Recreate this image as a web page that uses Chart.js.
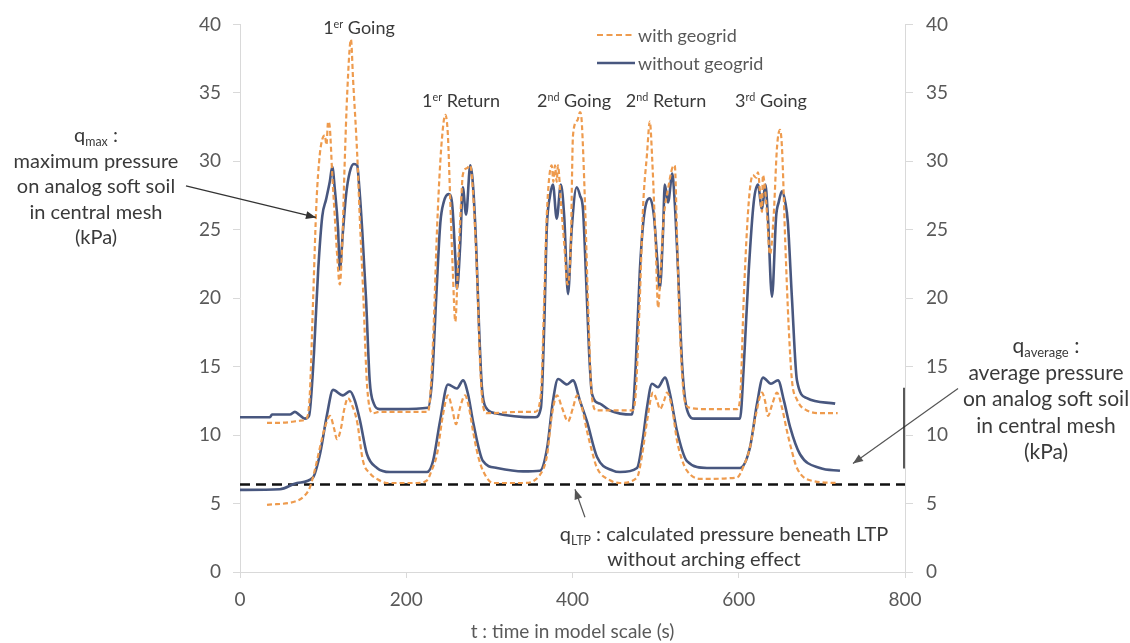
<!DOCTYPE html>
<html><head><meta charset="utf-8">
<script src="https://cdn.jsdelivr.net/npm/chart.js@4.4.0/dist/chart.umd.min.js"></script>
<style>
html,body{margin:0;padding:0;background:#fff;}
#wrap{position:relative;width:1130px;height:643px;overflow:hidden;font-family:Lato,"Open Sans",sans-serif;color:#3a3a3a;}
canvas{position:absolute;left:0;top:0;}
.t{position:absolute;white-space:nowrap;font-size:18px;line-height:1;transform:translate(-50%,-50%);}
.l{position:absolute;white-space:nowrap;font-size:18px;line-height:1;transform:translateY(-50%);color:#595959;}
.blk{position:absolute;white-space:nowrap;font-size:20px;text-align:center;transform:translateX(-50%);}
sup{font-size:0.6em;vertical-align:0.6em;line-height:0;}
sub{font-size:0.62em;vertical-align:-0.3em;line-height:0;}
</style></head>
<body><div id="wrap"><canvas id="c" width="1130" height="643"></canvas>
<div class="t" style="left:359px;top:27px">1<sup>er</sup> Going</div>
<div class="t" style="left:461px;top:100px">1<sup>er</sup> Return</div>
<div class="t" style="left:574px;top:100px">2<sup>nd</sup> Going</div>
<div class="t" style="left:666px;top:100px">2<sup>nd</sup> Return</div>
<div class="t" style="left:771px;top:100px">3<sup>rd</sup> Going</div>
<div class="l" style="left:638px;top:35px">with geogrid</div>
<div class="l" style="left:638px;top:63px">without geogrid</div>
<div class="blk" style="left:96px;top:122px;line-height:25.5px">q<sub>max</sub> :<br>maximum pressure<br>on analog soft soil<br>in central mesh<br>(kPa)</div>
<div class="blk" style="left:1046px;top:332px;line-height:26.5px;font-size:21px">q<sub>average</sub> :<br>average pressure<br>on analog soft soil<br>in central mesh<br>(kPa)</div>
<div class="t" style="left:724px;top:533px;font-size:20px">q<sub>LTP</sub> : calculated pressure beneath LTP</div>
<div class="t" style="left:704px;top:558px;font-size:20px">without arching effect</div>
</div>
<script>
// ---- data (t in s, q in kPa) ----
const xTicks = [0, 200, 400, 600, 800];
const yTicks = [0, 5, 10, 15, 20, 25, 30, 35, 40];

const qmaxWithout = [[0,11.3],[36,11.3],[38.5,11.5],[60,11.5],[66,11.7],[71,11.5],[78,11.2],[83,11.4],[89,16],[94,22],[99,26],[103.5,27.2],[108,28.5],[111,29.6],[114,28],[118,25],[120,22.1],[124,25],[127.5,27.5],[132,29.2],[137,29.8],[141,29.7],[143,28.5],[147,25],[151.6,20],[156,14],[161,12.3],[168,11.9],[192.5,11.9],[226,12.0],[231,14],[236,20],[241,25.5],[245,27],[251,27.6],[255,27],[259,23],[261,20.7],[265,24],[268,28.1],[272,26.1],[277,29.7],[280,28.5],[284,24],[287.5,18],[291,13.5],[296,12],[307,11.6],[355,11.3],[362,12],[366,18],[369,25],[373,27.5],[376.5,28.3],[381,25.8],[386,28.3],[390,26],[394.6,20.3],[399,25],[405,28.1],[409,27.5],[412.6,26.5],[416,22],[420,16],[423.5,13],[433,12.3],[445,11.8],[471.6,11.5],[476,15],[481,22],[486,26],[493,27.3],[498,26],[501.7,23],[505,20.7],[509,25],[511,28.3],[515,27],[520,29.1],[523,27],[527,22],[532,15],[538,11.8],[547,11.2],[601.5,11.2],[606,15],[612,22],[618,27],[623,28.3],[628,26.5],[632,28.3],[635,26],[640,20.1],[645,26],[648,27],[652,27.8],[656,27],[659,25.6],[664,20],[670,14],[682,12.7],[716,12.3]];

const qmaxWith = [[32.5,10.9],[48,10.9],[60,10.95],[72,11.05],[80,11.2],[84,13],[88,20],[92,27],[96,30.5],[99,31.6],[102,31.9],[104,31.2],[106,32.9],[108,32.5],[111,29],[114,26],[117,23],[120,21.0],[123,24],[126,30],[129,35],[133.5,38.9],[136,36],[141,30.5],[144,26],[148,20.7],[153,13.5],[160,11.6],[168,11.7],[192,11.7],[226,11.7],[229,13],[233,18],[237,25],[241,30],[245,32.9],[247,33.4],[250,32],[253,27],[256,22],[259,18.3],[262,22],[266,27],[268,29],[273,29.5],[277,29.7],[280,28],[285,22],[289,15],[292,12.3],[297,11.6],[340,11.7],[355,11.7],[362,13],[366,20],[369,26],[375,29.7],[377,28.5],[379,29.7],[381,28.5],[382.5,29.7],[386,27],[390,24],[394,21],[398,24],[400.6,31.9],[406,33],[409,33.6],[411,33],[415,27],[418.6,19.8],[423,13],[429,11.8],[450,11.8],[472,11.8],[476,13],[481,20],[485,26.8],[489.6,30.5],[493,32.9],[496,30],[500,24],[503,19.3],[506,22],[510,26],[515,28],[520,29.5],[523,29.7],[526,24],[529,18],[535,12.5],[541,12.0],[560,11.9],[598,11.9],[602,13],[606,20],[612,27],[617,29],[621,28.8],[623,29.2],[628,26.3],[629,29],[633,27],[637.6,23.2],[642,26],[646,31],[649.6,32.3],[652,31],[656,24],[660,18],[664,14],[670,12.6],[682,11.8],[700,11.6],[719,11.6]];

const qavgWithout = [[0,6.0],[48,6.05],[68.6,6.5],[87.8,6.9],[96.2,8.6],[104.7,11.5],[111.9,13.3],[123.9,12.9],[132.3,13.2],[138.3,12.5],[144.4,11.05],[152.8,8.6],[164.8,7.6],[180.5,7.3],[225,7.3],[232.2,8.1],[240.6,11],[250.2,13.7],[261,13.4],[268.3,14],[274.3,13],[280.3,11],[292.3,8.1],[309.2,7.6],[340.5,7.35],[360.9,7.4],[369.3,9],[376.5,12.5],[382.6,14.1],[393.4,13.7],[400.6,14],[409,12.5],[417.4,11],[429.5,8.4],[448.7,7.4],[457.1,7.3],[477.6,7.6],[484.8,9.8],[489.6,12],[495.6,13.75],[502.8,13.5],[511.3,14.2],[517.3,13],[525.7,10.3],[537.7,8.1],[561.8,7.6],[601.5,7.6],[613.5,9.1],[622,12.3],[629.2,14.2],[638.8,13.75],[647.2,14],[654.4,12.5],[661.7,10.6],[673.7,8.6],[697.7,7.6],[721.8,7.4]];

const qavgWith = [[32.5,4.9],[68.6,5.2],[78.2,5.6],[84.2,6.2],[90.2,7.5],[96.2,9.1],[102.3,10.6],[108.3,11.4],[113.1,10.5],[116.7,9.7],[121.5,10.5],[125.1,11.8],[129.9,12.7],[134.7,12.2],[140.8,11],[148,8.1],[156.4,7.2],[164.8,6.8],[176.8,6.5],[212.9,6.5],[225,6.7],[231,7.5],[237,8.6],[244.2,11.5],[250.2,12.9],[255,12],[259.9,10.8],[264.7,12],[270.7,12.9],[275.5,12],[280.3,10.3],[286.3,8.5],[292.3,7.4],[304.4,6.5],[340.5,6.5],[360.9,7.1],[369.3,8.5],[375.3,11.5],[381.4,12.9],[387.4,12],[394.6,11],[400.6,12],[405.4,12.9],[411.4,12],[417.4,10.3],[423.5,8.8],[429.5,7.6],[445.1,6.7],[457.1,6.5],[477.6,6.9],[483.6,8.5],[489.6,11],[496.8,13.1],[501.7,12.5],[505.3,11.9],[510.1,12.5],[513.7,13.1],[519.7,12],[525.7,9.6],[531.7,8.2],[537.7,7.4],[553.4,6.8],[597.9,6.9],[606.3,7.8],[613.5,9.1],[620.7,11.5],[628,13.1],[631.6,12.5],[635.2,11.4],[640,12.2],[646,13.1],[652,12],[658,10.3],[664,8.8],[670,7.6],[685.6,6.7],[719.3,6.5]];

const qLTP = 6.4;          // kPa, calculated pressure beneath LTP
const qLTPRange = [0, 800];

// annotation arrows in data coordinates [t, q]
const arrows = [
  {from:[-65,28.2], to:[91.4,25.9], color:'#333'},
  {from:[863.8,13.4], to:[737.4,7.93], color:'#555'},
  {from:[415,4.0], to:[403,6.04], color:'#555'}
];
const marker = {t:798.8, q1:13.45, q2:7.56};

const C_BLUE = '#48577F', C_ORANGE = '#EE9B4E', TXT = '#595959';
const xy = a => a.map(p => ({x:p[0], y:p[1]}));

const overlay = {
  id:'overlay',
  afterDatasetsDraw(chart){
    const {ctx, scales:{x, y}} = chart;
    ctx.save();
    arrows.forEach(a => {
      const x1 = x.getPixelForValue(a.from[0]), y1 = y.getPixelForValue(a.from[1]);
      const x2 = x.getPixelForValue(a.to[0]), y2 = y.getPixelForValue(a.to[1]);
      ctx.strokeStyle = a.color; ctx.fillStyle = a.color; ctx.lineWidth = 1.2;
      ctx.beginPath(); ctx.moveTo(x1,y1); ctx.lineTo(x2,y2); ctx.stroke();
      const ang = Math.atan2(y2-y1, x2-x1), L = 10, W = 4;
      ctx.beginPath();
      ctx.moveTo(x2,y2);
      ctx.lineTo(x2 - L*Math.cos(ang) + W*Math.sin(ang), y2 - L*Math.sin(ang) - W*Math.cos(ang));
      ctx.lineTo(x2 - L*Math.cos(ang) - W*Math.sin(ang), y2 - L*Math.sin(ang) + W*Math.cos(ang));
      ctx.closePath(); ctx.fill();
    });
    const mx = x.getPixelForValue(marker.t);
    ctx.strokeStyle = '#222'; ctx.lineWidth = 1.5;
    ctx.beginPath(); ctx.moveTo(mx, y.getPixelForValue(marker.q1)); ctx.lineTo(mx, y.getPixelForValue(marker.q2)); ctx.stroke();
    // legend samples
    ctx.lineWidth = 2.2;
    ctx.strokeStyle = C_ORANGE; ctx.setLineDash([6,3.5]);
    ctx.beginPath(); ctx.moveTo(597,35); ctx.lineTo(635,35); ctx.stroke();
    ctx.setLineDash([]); ctx.strokeStyle = C_BLUE; ctx.lineWidth = 2.5;
    ctx.beginPath(); ctx.moveTo(597,63); ctx.lineTo(635,63); ctx.stroke();
    ctx.restore();
  }
};

const lineBase = {pointRadius:0, fill:false, cubicInterpolationMode:'monotone'};
new Chart(document.getElementById('c'), {
  type:'line',
  data:{datasets:[
    Object.assign({label:'with geogrid', data:xy(qavgWith), borderColor:C_ORANGE, borderWidth:2.2, borderDash:[5,3]}, lineBase),
    Object.assign({label:'with geogrid', data:xy(qmaxWith), borderColor:C_ORANGE, borderWidth:2.2, borderDash:[5,3]}, lineBase),
    Object.assign({label:'without geogrid', data:xy(qavgWithout), borderColor:C_BLUE, borderWidth:2.6}, lineBase),
    Object.assign({label:'without geogrid', data:xy(qmaxWithout), borderColor:C_BLUE, borderWidth:2.6}, lineBase),
    {label:'qLTP', data:qLTPRange.map(t => ({x:t, y:qLTP})), borderColor:'#111', borderWidth:2.5, borderDash:[10,6], pointRadius:0, fill:false}
  ]},
  options:{
    responsive:false, animation:false, events:[],
    layout:{padding:{top:22, left:0, right:0, bottom:0}},
    plugins:{legend:{display:false}, tooltip:{enabled:false}},
    scales:{
      x:{type:'linear', min:xTicks[0], max:xTicks[xTicks.length-1],
         afterBuildTicks(s){ s.ticks = xTicks.map(v => ({value:v})); },
         ticks:{font:{family:'Lato', size:19}, color:TXT, padding:10, maxRotation:0, autoSkip:false},
         grid:{drawOnChartArea:false, drawTicks:true, tickLength:6, color:'#d9d9d9'},
         border:{display:true, color:'#d9d9d9'},
         title:{display:true, text:'t : time in model scale (s)', font:{family:'Lato', size:19}, color:TXT, padding:{top:0, bottom:0}},
         afterFit(s){ s.height = 71; }},
      y:{position:'left', min:yTicks[0], max:yTicks[yTicks.length-1],
         afterBuildTicks(s){ s.ticks = yTicks.map(v => ({value:v})); },
         ticks:{font:{family:'Lato', size:19}, color:TXT, padding:12, autoSkip:false},
         grid:{drawOnChartArea:false, drawTicks:true, tickLength:7, color:'#d9d9d9'},
         border:{display:true, color:'#d9d9d9'},
         afterFit(s){ s.width = 240; }},
      y2:{position:'right', min:yTicks[0], max:yTicks[yTicks.length-1],
         afterBuildTicks(s){ s.ticks = yTicks.map(v => ({value:v})); },
         ticks:{font:{family:'Lato', size:19}, color:TXT, padding:13, autoSkip:false},
         grid:{drawOnChartArea:false, drawTicks:true, tickLength:8, color:'#d9d9d9'},
         border:{display:true, color:'#d9d9d9'},
         afterFit(s){ s.width = 225; }}
    }
  },
  plugins:[overlay]
});
</script>
</body></html>
